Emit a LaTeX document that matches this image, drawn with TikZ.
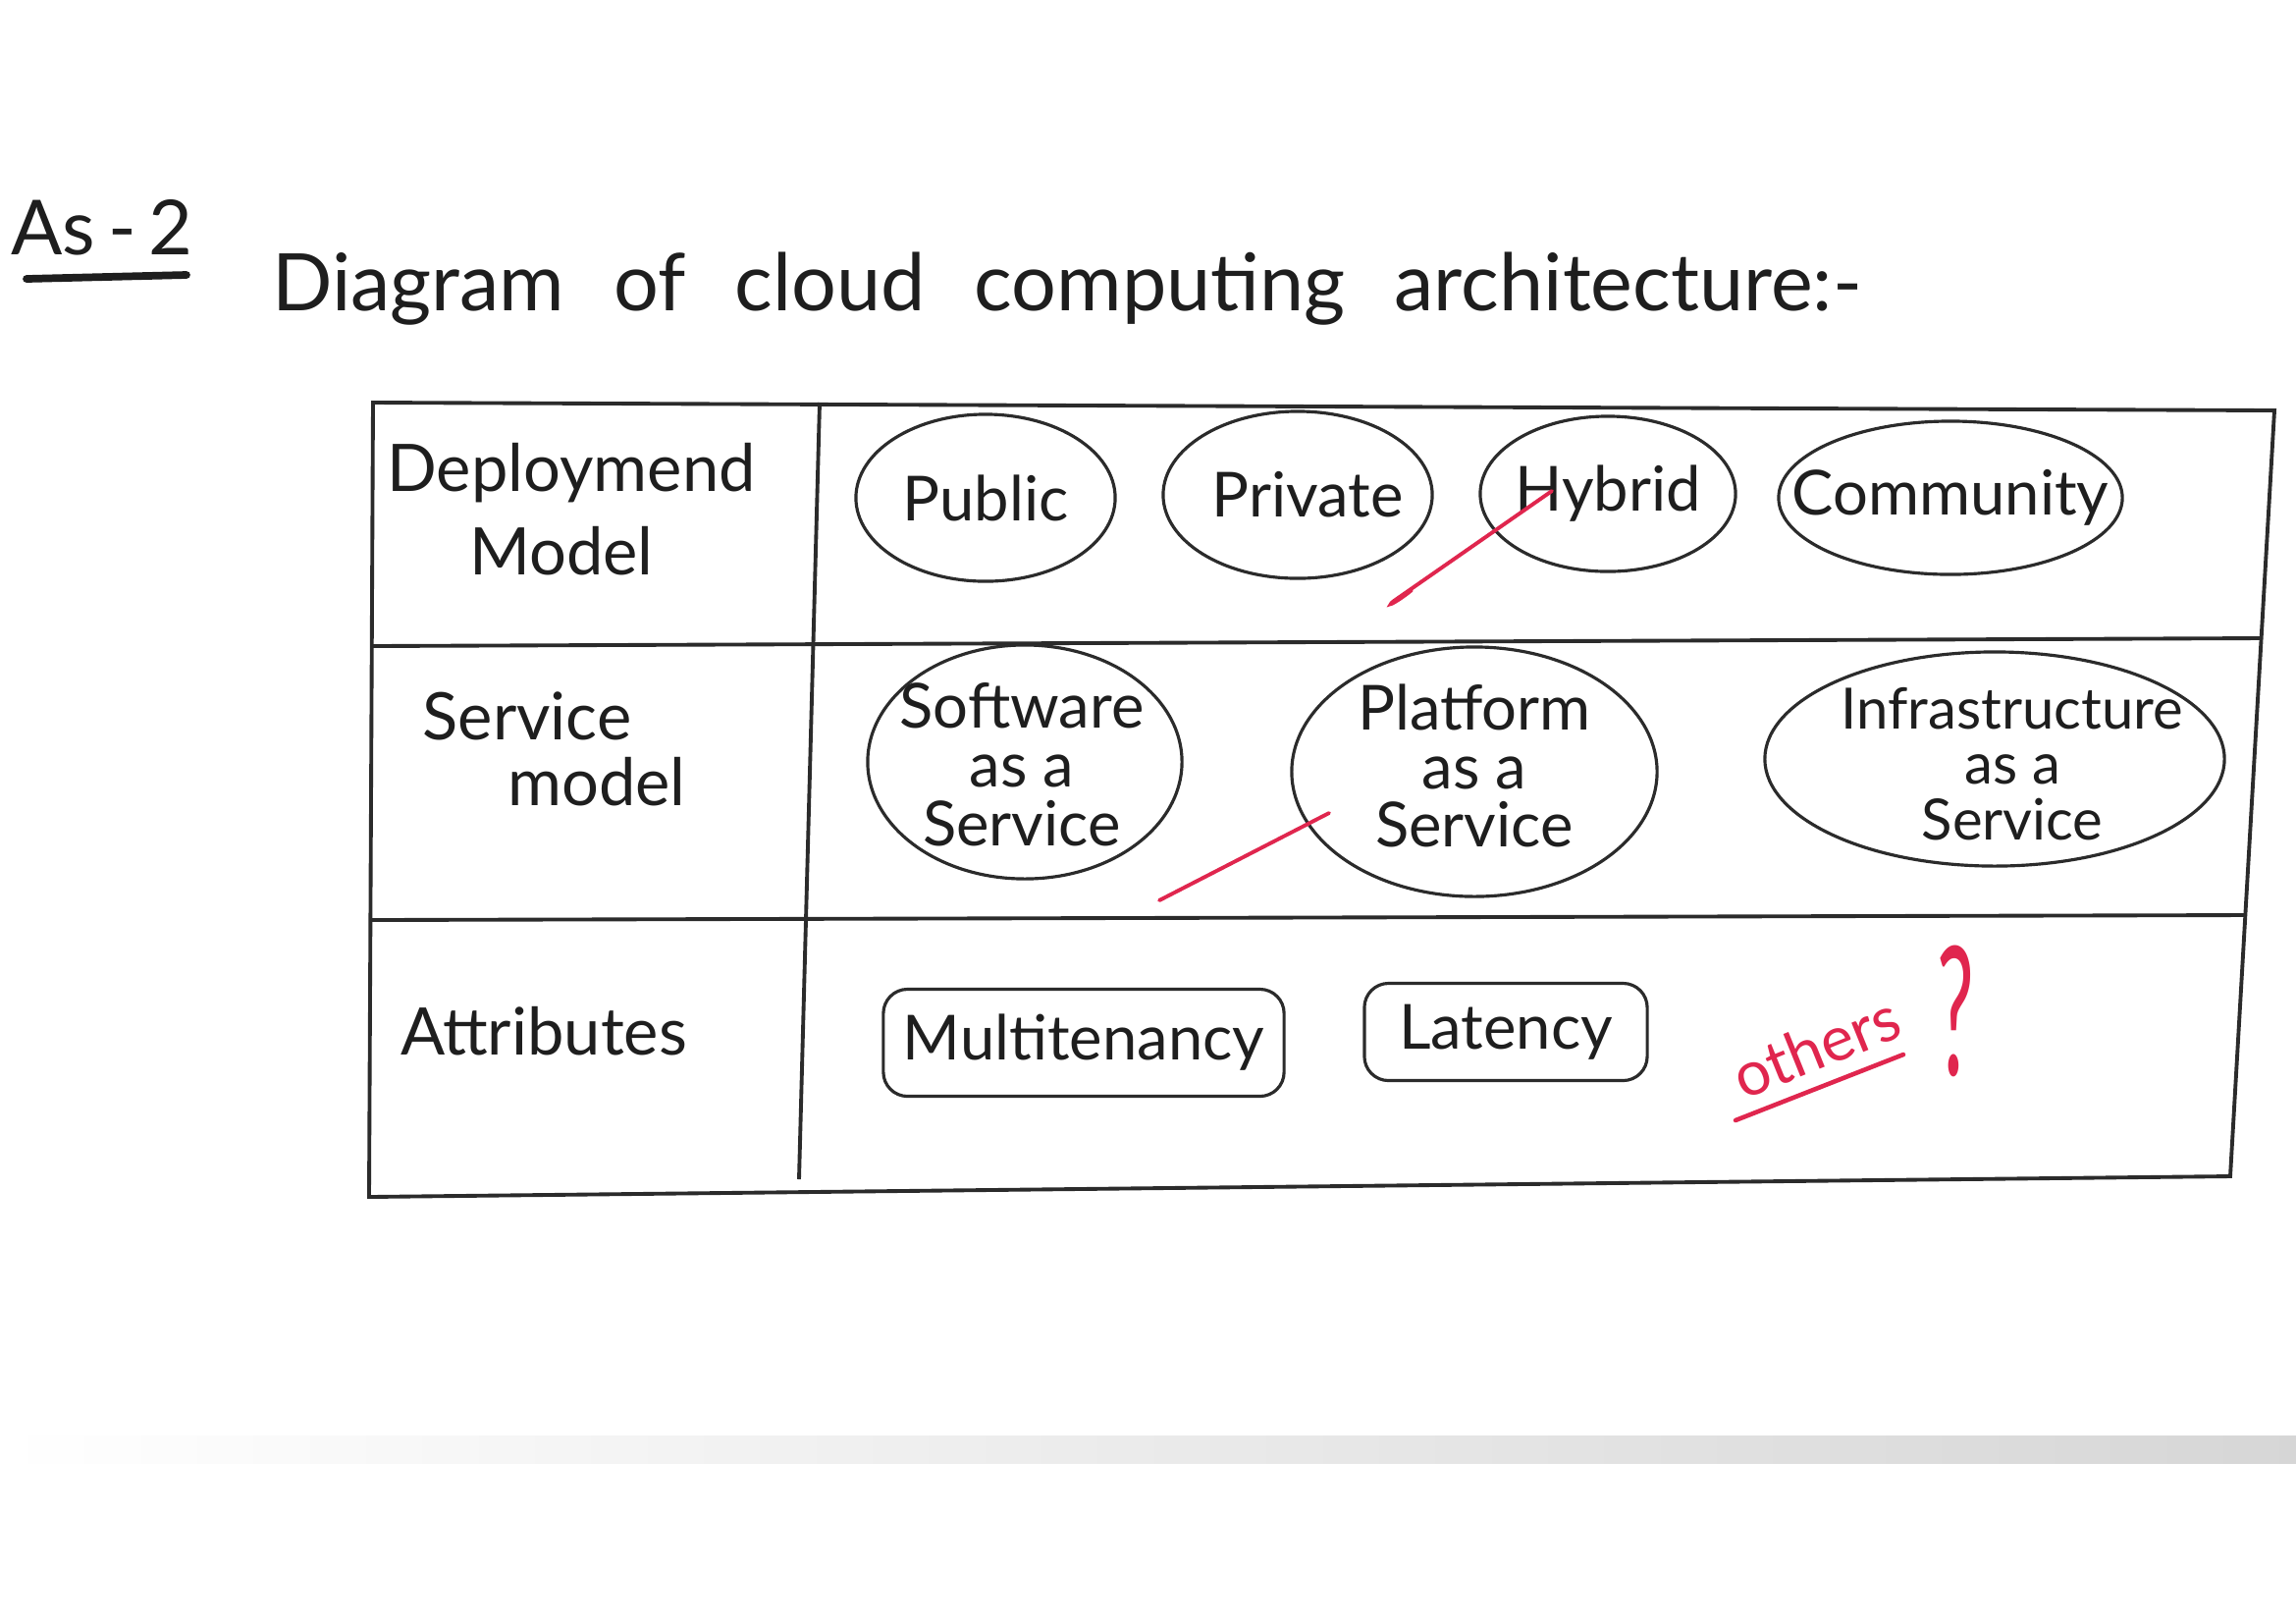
\documentclass[tikz,border=0pt]{standalone}
\usepackage{fontspec}
\usepackage{graphicx}
\setmainfont{Lato}
\usetikzlibrary{shapes.geometric}
\definecolor{ink}{HTML}{1E1E1E}
\definecolor{rulegray}{HTML}{2B2B2B}
\definecolor{redink}{HTML}{E0264E}

\begin{document}
\begin{tikzpicture}[x=0.01cm,y=-0.01cm,
  hand/.style={font=\fontsize{18}{17}\selectfont, text=ink, align=center},
  oval/.style={ellipse, draw=rulegray, line width=0.9pt, inner sep=0pt},
  tagbox/.style={draw=rulegray, line width=0.9pt, rounded corners=7pt, inner sep=0pt, hand},
  gridline/.style={draw=rulegray, line width=1.1pt},
  redstroke/.style={draw=redink, line width=1.1pt, line cap=round},
  rowlabel/.style={hand, font=\fontsize{19}{17}\selectfont, anchor=base}
]
\useasboundingbox (0,0) rectangle (2339,1653);
\fill[white] (0,0) rectangle (2339,1653);

% edge of the sheet near the bottom
\shade[left color=white, right color=black!16] (0,1462) rectangle (2339,1490);

% heading
\node[font=\fontsize{22}{22}\selectfont, text=ink] (qno) at (104,232) {As\,-\,2};
\coordinate (ul1) at (27,284);
\coordinate (ul2) at (190,280);
\draw[ink, line width=2.2pt, line cap=round] (ul1) -- (ul2);
\node[font={\fontsize{23}{23}\selectfont\spaceskip=0.5cm}, text=ink, anchor=base west]
  (title) at (265,316) {Diagram of cloud computing architecture:-};

% table frame
\coordinate (tl) at (380,410);
\coordinate (tr) at (2317,418);
\coordinate (br) at (2272,1198);
\coordinate (bl) at (376,1219);
\coordinate (r1l) at (378,658);
\coordinate (r1r) at (2303,650);
\coordinate (r2l) at (377,937);
\coordinate (r2r) at (2288,932);
\coordinate (ct) at (835,410);
\coordinate (cb) at (814,1201);
\draw[gridline] (tl) -- (tr) -- (br) -- (bl) -- cycle;
\draw[gridline] (r1l) -- (r1r);
\draw[gridline] (r2l) -- (r2r);
\draw[gridline] (ct) -- (cb);

% row headings
\node[rowlabel] (dep1) at (582,500) {Deploymend};
\node[rowlabel] (dep2) at (572,585) {Model};
\node[rowlabel] (ser1) at (537,753) {Service};
\node[rowlabel] (ser2) at (608,820) {model};
\node[rowlabel] (att) at (554,1074) {Attributes};

% deployment models
\node[oval, minimum width=2.64cm, minimum height=1.70cm] (public) at (1004,507) {};
\node[oval, minimum width=2.74cm, minimum height=1.70cm] (private) at (1322,504) {};
\node[oval, minimum width=2.60cm, minimum height=1.58cm] (hybrid) at (1638,503) {};
\node[oval, minimum width=3.50cm, minimum height=1.56cm] (community) at (1987,507) {};
\node[hand] (publict) at (public) {Public};
\node[hand] (privatet) at ([xshift=0.1cm]private) {Private};
\node[hand] (hybridt) at (hybrid) {Hybrid};
\node[hand] (communityt) at (community) {Community};

% service models
\node[oval, minimum width=3.20cm, minimum height=2.38cm] (saas) at (1044,776) {};
\node[oval, minimum width=3.72cm, minimum height=2.54cm] (paas) at (1502,786) {};
\node[oval, minimum width=4.68cm, minimum height=2.18cm] (iaas) at (2032,773) {};
\node[hand] (saast) at ([xshift=-0.03cm,yshift=-0.03cm]saas) {Software\\as a\\Service};
\node[hand] (paast) at ([yshift=0.06cm]paas) {Platform\\as a\\Service};
\node[hand, font=\fontsize{16.5}{16}\selectfont] (iaast) at ([xshift=0.18cm,yshift=-0.05cm]iaas) {Infrastructure\\as a\\Service};

% attributes
\node[tagbox, minimum width=4.08cm, minimum height=1.09cm] (multi) at (1104,1062) {Multitenancy};
\node[tagbox, minimum width=2.88cm, minimum height=0.99cm] (lat) at (1534,1051) {Latency};
\node[hand, text=redink, rotate=22, inner sep=1pt] (others) at (1850,1066) {others};
\node[text=redink, inner sep=0pt] (qmark) at (1992,1030)
  {\scalebox{0.6}[1.3]{\fontsize{40}{40}\selectfont ?}};

% red pen strokes
\coordinate (h1) at (1581,500);
\coordinate (h2) at (1420,612);
\coordinate (h3) at (1438,601);
\draw[redstroke] (h1) -- (h2) .. controls (1410,620) and (1426,611) .. (h3);
\coordinate (p1) at (1354,828);
\coordinate (p2) at (1181,917);
\draw[redstroke] (p1) -- (p2);
\coordinate (o1) at (1768,1141);
\coordinate (o2) at (1939,1074);
\draw[redstroke, line width=1.3pt] (o1) -- (o2);
\end{tikzpicture}
\end{document}
